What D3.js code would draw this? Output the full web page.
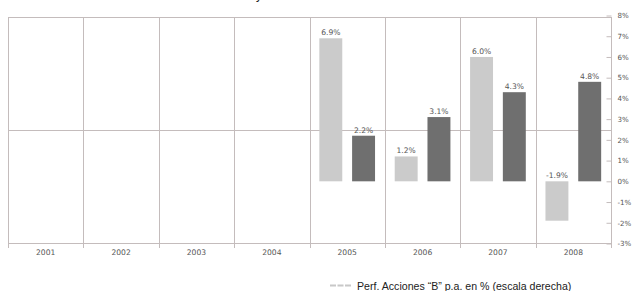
<!DOCTYPE html>
<html lang="en">
<head>
  <meta charset="utf-8">
  <script src="https://d3js.org/d3.v7.min.js"></script>
  <style>
    body { margin: 0; background: #fff; }
    svg { display: block; }
    .grid line { stroke: #c4bcbc; stroke-width: 1px; }
    .lbl { font-family: "DejaVu Sans", sans-serif; font-size: 7.6px; fill: #555; }
  </style>
</head>
<body>
  <svg id="chart" width="632" height="291"></svg>

  <script>
    // chart data
    let years = ["2001", "2002", "2003", "2004", "2005", "2006", "2007", "2008"];
    let perfB = [null, null, null, null, 6.9, 1.2, 6.0, -1.9];
    let other = [null, null, null, null, 2.2, 3.1, 4.3, 4.8];
    let yTicks = [-3, -2, -1, 0, 1, 2, 3, 4, 5, 6, 7, 8];
    let legendText = "Perf. Acciones \u201CB\u201D p.a. en % (escala derecha)";

    let svg = d3.select("#chart");
    let pLeft = 8, pRight = 611, pTop = 17, pBottom = 243;

    let x = d3.scaleBand().domain(years).range([pLeft, pRight]);
    let inner = d3.scaleBand().domain(["b", "o"]).range([0, x.bandwidth()])
        .paddingInner(0.3).paddingOuter(0.3);
    let y = d3.scaleLinear().domain([-3, 8]).range([243.5, 15.5]);

    // cut-off title (only its descender shows)
    svg.append("text")
        .attr("x", 256).attr("y", -1)
        .style("font-family", "Liberation Sans, Arial, sans-serif")
        .style("font-size", "12px").style("fill", "#222")
        .text("y");

    let grid = svg.append("g").attr("class", "grid");
    // vertical lines at band boundaries, running into the tick marks below
    let edges = years.map(d => x(d)).concat([pRight]);
    grid.selectAll(".v")
        .data(edges)
        .join("line")
        .attr("x1", d => Math.round(d) + 0.5).attr("x2", d => Math.round(d) + 0.5)
        .attr("y1", pTop).attr("y2", pBottom + 5);
    // frame top / bottom and mid gridline
    grid.selectAll(".h")
        .data([pTop, pBottom, Math.round(y(2.5))])
        .join("line")
        .attr("x1", pLeft).attr("x2", pRight)
        .attr("y1", d => d + 0.5).attr("y2", d => d + 0.5);

    // bars
    let rows = years.map((yr, i) => ({ year: yr, b: perfB[i], o: other[i] }));
    let bars = svg.append("g");
    bars.selectAll(".bb")
        .data(rows.filter(d => d.b != null))
        .join("rect")
        .attr("x", d => x(d.year) + inner("b"))
        .attr("width", inner.bandwidth())
        .attr("y", d => y(Math.max(0, d.b)))
        .attr("height", d => Math.abs(y(d.b) - y(0)))
        .style("fill", "#cbcbcb");
    bars.selectAll(".bo")
        .data(rows.filter(d => d.o != null))
        .join("rect")
        .attr("x", d => x(d.year) + inner("o"))
        .attr("width", inner.bandwidth())
        .attr("y", d => y(Math.max(0, d.o)))
        .attr("height", d => Math.abs(y(d.o) - y(0)))
        .style("fill", "#6f6f6f");

    // value labels
    let fmt = v => v.toFixed(1) + "%";
    bars.selectAll(".tb")
        .data(rows.filter(d => d.b != null))
        .join("text")
        .attr("class", "lbl")
        .attr("text-anchor", "middle")
        .attr("x", d => x(d.year) + inner("b") + inner.bandwidth() / 2)
        .attr("y", d => y(Math.max(0, d.b)) - 3)
        .text(d => fmt(d.b));
    bars.selectAll(".to")
        .data(rows.filter(d => d.o != null))
        .join("text")
        .attr("class", "lbl")
        .attr("text-anchor", "middle")
        .attr("x", d => x(d.year) + inner("o") + inner.bandwidth() / 2)
        .attr("y", d => y(Math.max(0, d.o)) - 3)
        .text(d => fmt(d.o));

    // right axis, ticks pointing inward
    let yAxis = svg.append("g")
        .attr("transform", "translate(" + (pRight + 0.5) + ",0)")
        .call(d3.axisRight(y).tickValues(yTicks).tickFormat(d => d + "%").tickSize(-5).tickPadding(6));
    yAxis.select(".domain").attr("stroke", "#c4bcbc").attr("d", "M0," + pTop + "V" + (pBottom + 5));
    yAxis.selectAll(".tick line").attr("stroke", "#c4bcbc");
    yAxis.selectAll("text").attr("class", "lbl").attr("fill", null).style("font-size", "7.1px");

    // year labels
    svg.append("g").selectAll("text")
        .data(years)
        .join("text")
        .attr("class", "lbl")
        .attr("text-anchor", "middle")
        .attr("x", d => x(d) + x.bandwidth() / 2)
        .attr("y", 255)
        .text(d => d);

    // legend
    let lg = svg.append("g").attr("transform", "translate(330,285)");
    lg.append("line")
        .attr("x1", 0).attr("x2", 21).attr("y1", 0.5).attr("y2", 0.5)
        .style("stroke", "#c8c8c8").style("stroke-width", 2)
        .style("stroke-dasharray", "6,1.5");
    lg.append("text")
        .attr("x", 27).attr("y", 5)
        .style("font-family", "Liberation Sans, Arial, sans-serif")
        .style("font-size", "10.6px").style("fill", "#222")
        .text(legendText);
  </script>
</body>
</html>
